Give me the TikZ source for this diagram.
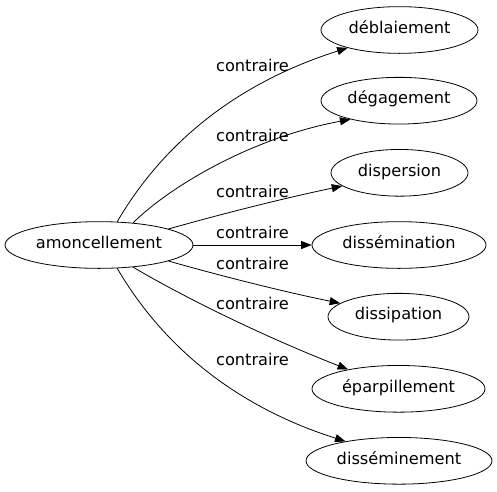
\documentclass[tikz,border=0pt]{standalone}
\usepackage{fontspec}
\setmainfont{DejaVu Sans}
\usetikzlibrary{shapes.geometric,arrows.meta}
\tikzset{
  word/.style={draw=black, ellipse, line width=0.8pt, inner sep=0pt, minimum height=46.7pt,
    font=\fontsize{16.2}{19}\selectfont, text height=0.82em, text depth=0.18em},
  lab/.style={inner sep=0pt, font=\fontsize{16.2}{19}\selectfont, text height=0.82em, text depth=0.18em},
  edge/.style={draw=black, line width=0.8pt, -{Triangle[length=10.5pt,width=8pt]}}
}
\begin{document}
\begin{tikzpicture}[x=1pt,y=-1pt]
\useasboundingbox (0,0) rectangle (497,491);
\node[word, minimum width=188pt] (a) at (99,245) {amoncellement};
\node[word, minimum width=157pt] (b1) at (399.5,30) {déblaiement};
\node[word, minimum width=156pt] (b2) at (399,100.7) {dégagement};
\node[word, minimum width=137pt] (b3) at (399.5,172.8) {dispersion};
\node[word, minimum width=174pt] (b4) at (399,245) {dissémination};
\node[word, minimum width=141pt] (b5) at (398.5,316.7) {dissipation};
\node[word, minimum width=173pt] (b6) at (398.5,388.8) {éparpillement};
\node[word, minimum width=186pt] (b7) at (399,460.8) {disséminement};
\draw[edge] (a.52) .. controls (165,140) and (240,82) .. (b1.199);
\draw[edge] (a.33) .. controls (168,188) and (250,138) .. (b2.201);
\draw[edge] (a.13) .. controls (225,213) and (285,198) .. (b3.193);
\draw[edge] (a.0) -- (b4.180);
\draw[edge] (a.-13) .. controls (225,277) and (285,292) .. (b5.167);
\draw[edge] (a.-33) .. controls (180,295) and (260,335) .. (b6.159);
\draw[edge] (a.-52) .. controls (165,350) and (240,408) .. (b7.160);
\node[lab] (l1) at (252.5,68.3) {contraire};
\node[lab] (l2) at (252.5,138.3) {contraire};
\node[lab] (l3) at (252.5,194.3) {contraire};
\node[lab] (l4) at (252.5,235) {contraire};
\node[lab] (l5) at (252.5,266) {contraire};
\node[lab] (l6) at (252.5,306) {contraire};
\node[lab] (l7) at (252.5,362) {contraire};
\end{tikzpicture}
\end{document}
